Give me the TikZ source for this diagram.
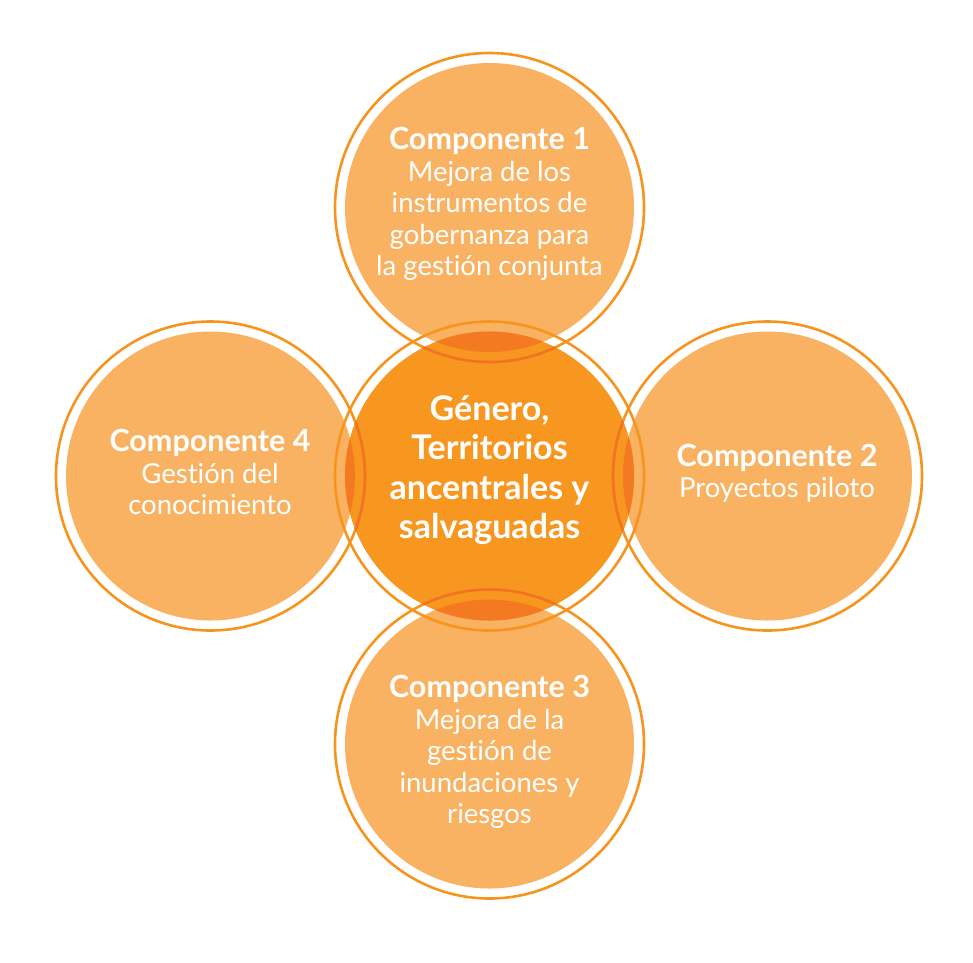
\documentclass[tikz,border=0pt]{standalone}
\usepackage{fontspec}
\setmainfont{Lato}[RawFeature={-liga;-dlig;-clig;-calt}]
\definecolor{lightfill}{HTML}{F9B262}
\definecolor{midfill}{HTML}{F7971F}
\definecolor{lensfill}{HTML}{F37A21}
\definecolor{ringcol}{HTML}{F7941D}
\definecolor{ringdark}{HTML}{F27321}
\tikzset{
  ringline/.style={draw=ringcol, line width=2.6pt},
  ringdk/.style={draw=ringdark, line width=2.6pt},
  comptext/.style={text=white, align=center, font=\fontsize{27.5}{31.5}\selectfont, inner sep=0pt},
  centertext/.style={text=white, align=center, font=\bfseries\fontsize{34}{39.5}\selectfont, inner sep=0pt},
}
\newcommand{\comptitle}[1]{{\bfseries\fontsize{30.5}{31.5}\selectfont #1}}
\begin{document}
\begin{tikzpicture}[x=1pt,y=-1pt]
\useasboundingbox (0,0) rectangle (973,962);
\def\fr{144.5pt}
\def\rr{154.5pt}
% centres
\coordinate (cT) at (489.5,207.5);
\coordinate (cC) at (489.5,476);
\coordinate (cB) at (489.5,744);
\coordinate (cL) at (210.5,476);
\coordinate (cR) at (767.5,476);
% fills
\fill[lightfill] (cT) circle (\fr);
\fill[lightfill] (cB) circle (\fr);
\fill[lightfill] (cL) circle (\fr);
\fill[lightfill] (cR) circle (\fr);
\fill[midfill] (cC) circle (\fr);
% lenses
\foreach \c in {cT,cB,cL,cR}{
  \begin{scope}
    \clip (cC) circle (\fr);
    \fill[lensfill] (\c) circle (\fr);
  \end{scope}
}
% rings
\foreach \c in {cT,cB,cL,cR,cC}{
  \draw[ringline] (\c) circle (\rr);
}
% rings darker over the central disc
\begin{scope}
  \clip (cC) circle (\fr);
  \foreach \c in {cT,cB,cL,cR}{
    \draw[ringdk] (\c) circle (\rr);
  }
\end{scope}
% texts
\node[comptext] (t1) at (489.5,204) {\comptitle{Componente 1}\\Mejora de los\\instrumentos de\\gobernanza para\\la gestión conjunta};
\node[comptext] (t2) at (777,473) {\comptitle{Componente 2}\\Proyectos piloto};
\node[comptext] (t3) at (489.5,752) {\comptitle{Componente 3}\\Mejora de la\\gestión de\\inundaciones y\\riesgos};
\node[comptext] (t4) at (210,472) {\comptitle{Componente 4}\\Gestión del\\conocimiento};
\node[centertext] (tc) at (489.5,470) {Género,\\Territorios\\ancentrales y\\salvaguadas};
\end{tikzpicture}
\end{document}
